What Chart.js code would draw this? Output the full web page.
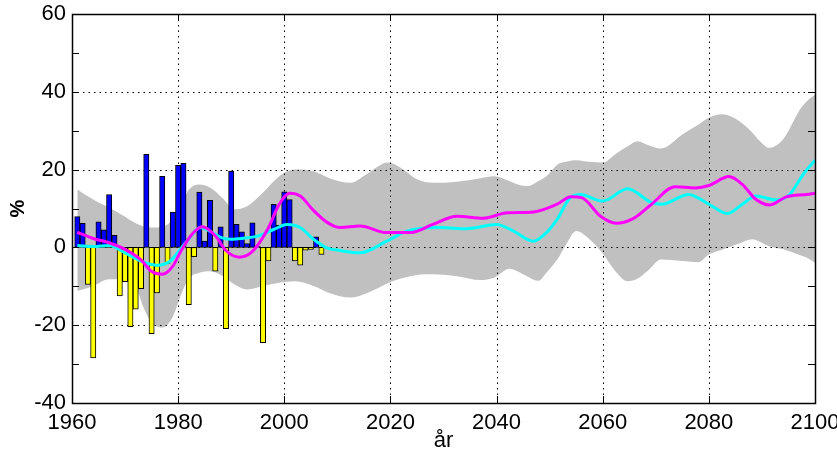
<!DOCTYPE html>
<html>
<head>
<meta charset="utf-8">
<script src="https://cdn.jsdelivr.net/npm/chart.js@4.4.1/dist/chart.umd.min.js"></script>
<style>
  html, body { margin: 0; padding: 0; background: #fff; }
  #chart { display: block; }
</style>
</head>
<body>
<canvas id="chart" width="837" height="457"></canvas>
<script>
// yearly anomalies (%), 1961-2007
var barYears = [1961,1962,1963,1964,1965,1966,1967,1968,1969,1970,
  1971,1972,1973,1974,1975,1976,1977,1978,1979,1980,
  1981,1982,1983,1984,1985,1986,1987,1988,1989,1990,
  1991,1992,1993,1994,1995,1996,1997,1998,1999,2000,
  2001,2002,2003,2004,2005,2006,2007];
var barValues = [7.9,6.2,-9.5,-28.4,6.6,4.5,13.6,3.1,-12.5,-8.8,
  -20.4,-15.9,-10.6,23.9,-22.2,-11.7,18.3,-4.1,9.1,21.1,
  21.6,-14.7,-2.4,14.2,1.6,12.1,-6.1,5.3,-20.9,19.6,
  5.9,4.0,1.0,6.3,0.2,-24.5,-3.5,11.1,5.7,14.3,
  12.3,-3.5,-4.6,-0.7,-0.5,2.7,-1.8];

// magenta curve
var magentaYears = [1961,1964,1967,1970,1973,1975,1977,1979,1980.5,1982.5,
  1984.5,1987,1989,1991.5,1994,1997,1999,2001,2003,2005.5,
  2008,2010.5,2014.3,2019.3,2023.7,2028,2032.5,2037.5,2042,2047,
  2051.4,2054,2056,2059.6,2062.5,2066,2069.2,2073.6,2077.5,2080,
  2083.8,2086.3,2088.9,2091.4,2094.6,2098.4,2100];
var magentaValues = [3.9,2.3,1.2,-0.5,-3.2,-6.2,-6.9,-4.8,-1.0,3.2,
  5.3,3.0,-0.8,-2.5,-1.0,5.0,11.0,13.9,13.2,9.5,
  6.5,5.1,5.5,3.8,3.8,5.9,8.0,7.5,8.9,9.1,
  11.1,13.0,12.8,8.0,6.2,7.6,11.1,15.6,15.3,15.9,
  18.2,16.2,12.3,10.9,13.0,13.6,13.9];

// cyan curve
var cyanYears = [1961,1964,1967,1970,1973,1976,1978.5,1980.4,1982.2,1984.1,
  1986,1988,1990,1992,1995,1998,2000.5,2003,2005.5,2008,
  2010.5,2014.3,2019.3,2023.1,2029.3,2034.4,2040,2043.2,2046.9,2049.4,
  2051.4,2053.9,2055.8,2060,2064.7,2069.2,2071.1,2076.2,2080,2083.5,
  2086.3,2088.9,2092.7,2095.2,2097.8,2100];
var cyanValues = [0.5,0.2,0.5,-1.4,-3.5,-4.6,-3.5,-0.5,2.5,5.1,
  4.2,2.6,2.1,2.3,2.9,4.6,5.9,5.1,2.1,-0.1,
  -0.8,-1.4,1.6,4.2,5.1,4.8,5.9,4.2,1.6,3.8,
  7.2,12.8,13.6,11.9,15.1,11.5,11.1,13.6,11.1,8.7,
  11.1,13.2,12.2,13.6,18.8,22.4];

// grey spread band
var bandYears = [1961,1964,1967,1970,1972,1973.5,1975,1977,1979,1980.5,
  1982,1984,1986,1988.5,1990.5,1993,1996,1999,2002,2005.5,
  2008.5,2012.5,2015.5,2019.5,2022,2025,2028,2032.5,2037,2039.5,
  2042.5,2044,2046,2047.8,2049.4,2051.5,2053,2055,2057.5,2060,
  2062.5,2064.7,2066.6,2068.5,2071,2075,2078,2080,2082.5,2085.7,
  2088.2,2089.5,2091.4,2094,2097.2,2098.4,2100];
var bandUpper = [14.9,12.3,10.2,7.9,6.2,5.4,5.1,5.3,7.2,10.5,
  14.8,16.2,15.4,12.5,9.8,10.6,14.1,18.2,20.0,19.6,
  17.8,16.6,18.8,21.8,20.4,17.5,16.6,16.9,17.8,18.3,
  17.0,16.2,15.8,17.0,18.3,21.3,22.0,22.4,22.0,21.8,
  24.1,26.0,27.3,26.3,25.4,29.0,31.5,33.3,34.2,32.5,
  29.5,27.5,25.6,27.8,35.5,37.5,39.3];
var bandLower = [-11.2,-9.9,-8.2,-8.2,-10.0,-15.5,-19.3,-20.6,-17.8,-12.3,
  -8.0,-6.5,-6.1,-7.4,-9.4,-10.8,-9.9,-9.1,-8.7,-9.9,
  -11.7,-12.9,-11.8,-9.2,-8.0,-7.1,-6.9,-7.4,-8.4,-7.8,
  -5.5,-6.2,-7.6,-8.6,-6.5,-3.0,0.5,4.2,2.1,-1.6,
  -6.3,-8.7,-8.0,-6.0,-3.1,-3.5,-3.8,-1.8,-0.6,1.0,
  2.1,1.5,0.3,-0.5,-2.0,-2.6,-3.9];

var xTicks = [1960,1980,2000,2020,2040,2060,2080,2100];
var yTicks = [-40,-20,0,20,40,60];
var yMinorTicks = [-40,-30,-20,-10,0,10,20,30,40,50,60];

function pts(xs, ys) {
  return xs.map(function (x, i) { return {x: x, y: ys[i]}; });
}

Chart.defaults.font.family = "'Liberation Sans', Arial, sans-serif";
Chart.defaults.font.size = 22;
Chart.defaults.color = '#000';

// dotted grid right above the grey band, ticks + box on top of everything
var axesBox = {
  id: 'axesBox',
  afterDatasetDraw: function (chart, args) {
    if (args.index !== 1) return;
    var ctx = chart.ctx, a = chart.chartArea, x = chart.scales.x, y = chart.scales.y;
    ctx.save();
    ctx.strokeStyle = '#000';
    ctx.lineWidth = 1;
    ctx.setLineDash([1.5, 4]);
    ctx.beginPath();
    xTicks.forEach(function (v) {
      var px = Math.round(x.getPixelForValue(v)) + 0.5;
      ctx.moveTo(px, a.top); ctx.lineTo(px, a.bottom);
    });
    yTicks.forEach(function (v) {
      var py = Math.round(y.getPixelForValue(v)) + 0.5;
      ctx.moveTo(a.left, py); ctx.lineTo(a.right, py);
    });
    ctx.stroke();
    ctx.restore();
  },
  afterDraw: function (chart) {
    var ctx = chart.ctx, a = chart.chartArea, x = chart.scales.x, y = chart.scales.y;
    var len = 7;
    ctx.save();
    ctx.strokeStyle = '#000';
    ctx.lineWidth = 1;
    ctx.beginPath();
    xTicks.forEach(function (v) {
      var px = Math.round(x.getPixelForValue(v)) + 0.5;
      ctx.moveTo(px, a.bottom); ctx.lineTo(px, a.bottom - len);
      ctx.moveTo(px, a.top); ctx.lineTo(px, a.top + len);
    });
    yMinorTicks.forEach(function (v) {
      var py = Math.round(y.getPixelForValue(v)) + 0.5;
      ctx.moveTo(a.left, py); ctx.lineTo(a.left + len, py);
      ctx.moveTo(a.right, py); ctx.lineTo(a.right - len, py);
    });
    ctx.stroke();
    ctx.lineWidth = 1.5;
    ctx.strokeRect(Math.round(a.left) + 0.5, Math.round(a.top) + 0.5,
      Math.round(a.right - a.left), Math.round(a.bottom - a.top));
    ctx.restore();
  }
};

var chart = new Chart(document.getElementById('chart'), {
  type: 'bar',
  data: {
    datasets: [
      {
        type: 'line', data: pts(bandYears, bandLower), order: 5,
        borderWidth: 0, pointRadius: 0, fill: false,
        cubicInterpolationMode: 'monotone'
      },
      {
        type: 'line', data: pts(bandYears, bandUpper), order: 4,
        borderWidth: 0, pointRadius: 0, fill: '-1',
        backgroundColor: '#c0c0c0', cubicInterpolationMode: 'monotone'
      },
      {
        type: 'bar', data: pts(barYears, barValues), order: 3,
        backgroundColor: function (c) { return c.raw && c.raw.y < 0 ? '#ffff00' : '#0000ff'; },
        borderColor: '#000', borderWidth: 1, borderSkipped: false,
        categoryPercentage: 1.0, barPercentage: 1.0
      },
      {
        type: 'line', data: pts(cyanYears, cyanValues), order: 2,
        borderColor: '#00ffff', borderWidth: 3, pointRadius: 0, fill: false,
        cubicInterpolationMode: 'monotone'
      },
      {
        type: 'line', data: pts(magentaYears, magentaValues), order: 1,
        borderColor: '#ff00ff', borderWidth: 3, pointRadius: 0, fill: false,
        cubicInterpolationMode: 'monotone'
      }
    ]
  },
  options: {
    responsive: false,
    animation: false,
    devicePixelRatio: 1,
    layout: { padding: { left: 0, right: 22, top: 14, bottom: 0 } },
    plugins: { legend: { display: false }, tooltip: { enabled: false } },
    scales: {
      x: {
        type: 'linear', min: 1960, max: 2100, offset: false,
        grid: { display: false, drawTicks: false },
        border: { display: false },
        afterBuildTicks: function (s) { s.ticks = xTicks.map(function (v) { return {value: v}; }); },
        ticks: {
          padding: 7, maxRotation: 0, autoSkip: false,
          callback: function (v) { return String(v); }
        },
        title: { display: true, text: 'år', padding: { top: 0, bottom: 3 } },
        afterFit: function (s) { s.height = 54; s.paddingLeft = 0; s.paddingRight = 0; }
      },
      y: {
        min: -40, max: 60,
        grid: { display: false, drawTicks: false },
        border: { display: false },
        afterBuildTicks: function (s) { s.ticks = yTicks.map(function (v) { return {value: v}; }); },
        ticks: { padding: 6, autoSkip: false, callback: function (v) { return String(v); } },
        title: { display: true, text: '%', font: { size: 20, weight: 'bold' }, padding: { top: 6, bottom: 0 } },
        afterFit: function (s) { s.width = 72; s.paddingTop = 0; s.paddingBottom = 0; }
      }
    }
  },
  plugins: [axesBox]
});
</script>
</body>
</html>
